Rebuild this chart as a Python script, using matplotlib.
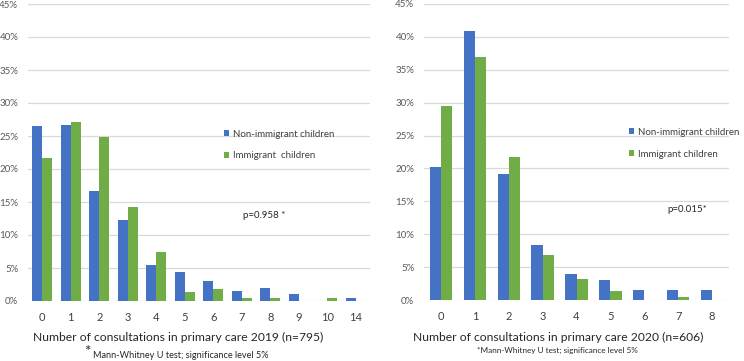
import matplotlib
matplotlib.use("Agg")
import matplotlib.pyplot as plt
from matplotlib.ticker import FuncFormatter

plt.rcParams['font.family'] = ['Lato', 'DejaVu Sans']

# data (percent)
cats_2019 = ['0', '1', '2', '3', '4', '5', '6', '7', '8', '9', '10', '14']
non_imm_2019 = [26.5, 26.6, 16.7, 12.3, 5.4, 4.4, 3.0, 1.5, 2.0, 1.0, 0, 0.5]
imm_2019 = [21.7, 27.1, 24.85, 14.3, 7.4, 1.4, 1.8, 0.5, 0.5, 0, 0.5, 0]

cats_2020 = ['0', '1', '2', '3', '4', '5', '6', '7', '8']
non_imm_2020 = [20.2, 40.9, 19.2, 8.4, 3.9, 3.0, 1.5, 1.5, 1.5]
imm_2020 = [29.5, 36.9, 21.7, 6.9, 3.2, 1.4, 0, 0.5, 0]

blue = '#4472C4'
green = '#70AD47'
grid = '#D9D9D9'
W, H = 744, 361

fig = plt.figure(figsize=(W / 100, H / 100), dpi=100)


def px_axes(x0, y0, x1, y1):
    return fig.add_axes([x0 / W, (H - y1) / H, (x1 - x0) / W, (y1 - y0) / H])


def draw(ax, cats, a, b, bw, lab_a, lab_b, leg_xy):
    xs = list(range(len(cats)))
    ax.bar([x - bw / 2 for x in xs], a, width=bw, color=blue, label=lab_a)
    ax.bar([x + bw / 2 for x in xs], b, width=bw, color=green, label=lab_b)
    ax.set_xlim(-0.5, len(cats) - 0.5)
    ax.set_ylim(0, 45)
    ax.set_yticks(range(0, 50, 5))
    ax.yaxis.set_major_formatter(FuncFormatter(lambda v, p: '%d%%' % v))
    ax.set_xticks(xs)
    ax.set_xticklabels(cats, fontsize=8)
    ax.tick_params(axis='y', labelsize=7, colors='#595959', length=0, pad=7)
    ax.tick_params(axis='x', colors='#404040', length=0, pad=8)
    ax.grid(axis='y', color=grid, linewidth=0.9)
    ax.set_axisbelow(True)
    for s in ax.spines.values():
        s.set_visible(False)
    ax.legend(frameon=False, loc='upper left', bbox_to_anchor=(leg_xy[0] / W, 1 - leg_xy[1] / H),
              bbox_transform=fig.transFigure, fontsize=7, handlelength=0.55,
              handleheight=0.55, handletextpad=0.35, labelspacing=1.3, borderpad=0,
              labelcolor='#404040')


ax1 = px_axes(28, 4, 370, 301)
draw(ax1, cats_2019, non_imm_2019, imm_2019, 0.35,
     'Non-immigrant children', 'Immigrant  children', (219, 125))
ax2 = px_axes(424, 4, 729, 300)
draw(ax2, cats_2020, non_imm_2020, imm_2020, 0.33,
     'Non-immigrant children', 'Immigrant children', (624, 123))

fig.text(264 / W, 1 - 216 / H, 'p=0.958 *', fontsize=7, ha='center', va='center', color='#262626')
fig.text(687 / W, 1 - 209 / H, 'p=0.015*', fontsize=7, ha='center', va='center', color='#262626')

fig.text(178 / W, 1 - 337 / H, 'Number of consultations in primary care 2019 (n=795)',
         fontsize=8.7, ha='center', va='center', color='#262626')
fig.text(558 / W, 1 - 337 / H, 'Number of consultations in primary care 2020 (n=606)',
         fontsize=8.7, ha='center', va='center', color='#262626')

fig.text(87 / W, 1 - 352 / H, '*', fontsize=11, ha='center', va='center', color='#262626')
fig.text(93 / W, 1 - 355 / H, 'Mann-Whitney U test; significance level 5%',
         fontsize=6.6, ha='left', va='center', color='#262626')
fig.text(557 / W, 1 - 350 / H, '*Mann-Whitney U test; significance level 5%',
         fontsize=5.9, ha='center', va='center', color='#262626')

fig.savefig('out.png', dpi=100)
